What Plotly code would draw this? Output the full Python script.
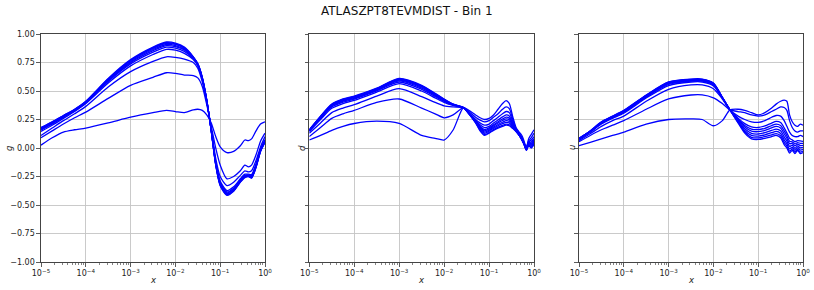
import plotly.graph_objects as go

# ---------------- data: log10(x) grids and curves ----------------
G_LX = [-5, -4.75, -4.5, -4.25, -4, -3.5, -3, -2.5, -2.2, -2, -1.8, -1.6, -1.5, -1.4, -1.3,
        -1.2, -1.1, -1, -0.85, -0.7, -0.55, -0.45, -0.37, -0.3, -0.2, -0.1, 0]
G_CURVES = [
    [0.025, 0.09, 0.14, 0.16, 0.175, 0.22, 0.27, 0.31, 0.33, 0.32, 0.31, 0.335, 0.34, 0.33, 0.29,
     0.22, 0.10, 0.01, -0.04, -0.03, 0.02, 0.07, 0.065, 0.08, 0.15, 0.21, 0.23],
    [0.09, 0.15, 0.21, 0.265, 0.315, 0.435, 0.55, 0.62, 0.66, 0.655, 0.64, 0.635, 0.615, 0.54, 0.38,
     0.19, 0.0, -0.15, -0.27, -0.25, -0.20, -0.15, -0.165, -0.15, -0.06, 0.06, 0.13],
    [0.11, 0.175, 0.24, 0.30, 0.365, 0.535, 0.67, 0.76, 0.80, 0.795, 0.78, 0.75, 0.70, 0.58, 0.40,
     0.17, -0.09, -0.25, -0.33, -0.30, -0.24, -0.20, -0.21, -0.20, -0.11, 0.01, 0.10],
    [.145, .20, .26, .32, .39, .57, .72, .82, .865, .858, .83, .775, .72, .60, .41,
     .16, -.12, -.29, -.373, -.34, -.27, -.23, -.23, -.233, -.14, -.01, .075],
    [.156, .21, .27, .326, .394, .584, .738, .841, .885, .876, .848, .783, .726, .606, .413,
     .157, -.129, -.302, -.385, -.352, -.279, -.239, -.236, -.242, -.149, -.016, .068],
    [.163, .216, .274, .33, .399, .591, .749, .854, .898, .889, .859, .788, .73, .61, .415,
     .155, -.135, -.31, -.394, -.36, -.285, -.245, -.24, -.249, -.155, -.02, .063],
    [.168, .221, .277, .333, .402, .597, .757, .864, .908, .899, .867, .792, .733, .613, .417,
     .153, -.14, -.316, -.401, -.366, -.29, -.25, -.243, -.254, -.16, -.023, .059],
    [.173, .225, .28, .336, .405, .603, .765, .873, .917, .908, .875, .795, .736, .616, .418,
     .152, -.144, -.322, -.407, -.372, -.294, -.254, -.246, -.259, -.164, -.026, .055],
    [.177, .227, .283, .338, .408, .606, .77, .879, .924, .914, .88, .798, .738, .618, .419,
     .151, -.147, -.326, -.411, -.376, -.297, -.257, -.248, -.262, -.167, -.028, .053],
    [0.18, 0.23, 0.285, 0.34, 0.41, 0.61, 0.775, 0.885, 0.93, 0.92, 0.885, 0.80, 0.74, 0.62, 0.42,
     0.15, -0.15, -0.33, -0.415, -0.38, -0.30, -0.26, -0.25, -0.265, -0.17, -0.03, 0.05],
]

D_LX = [-5, -4.75, -4.5, -4.25, -4, -3.5, -3, -2.5, -2.2, -2, -1.8, -1.57, -1.45, -1.3, -1.2,
        -1.1, -1, -0.9, -0.8, -0.7, -0.62, -0.55, -0.47, -0.4, -0.33, -0.27, -0.22, -0.17,
        -0.12, -0.06, 0]
D_CURVES = [
    [0.07, 0.11, 0.155, 0.19, 0.215, 0.235, 0.215, 0.11, 0.085, 0.07, 0.158, 0.354, 0.33, 0.29, 0.265,
     0.25, 0.26, 0.29, 0.34, 0.39, 0.416, 0.39, 0.27, 0.18, 0.14, 0.11, 0.06, 0.0, 0.08, 0.12, 0.16],
    [0.10, 0.18, 0.26, 0.30, 0.33, 0.40, 0.43, 0.35, 0.30, 0.265, 0.29, 0.354, 0.32, 0.27, 0.245,
     0.23, 0.24, 0.27, 0.30, 0.34, 0.36, 0.345, 0.25, 0.17, 0.13, 0.095, 0.045, 0.01, 0.06, 0.09, 0.13],
    [0.13, 0.22, 0.31, 0.35, 0.38, 0.455, 0.52, 0.45, 0.40, 0.37, 0.36, 0.354, 0.31, 0.25, 0.22,
     0.20, 0.21, 0.24, 0.27, 0.30, 0.32, 0.31, 0.23, 0.165, 0.12, 0.085, 0.04, 0.0, 0.05, 0.07, 0.10],
    [.145, .25, .348, .39, .418, .49, .565, .50, .44, .40, .373, .354, .308, .243, .203,
     .178, .19, .219, .246, .273, .29, .281, .215, .16, .118, .081, .038, -.005, .043, .053, .083],
    [.15, .259, .359, .402, .429, .501, .579, .515, .452, .409, .376, .354, .306, .237, .191,
     .162, .176, .204, .23, .254, .27, .262, .205, .157, .116, .079, .036, -.008, .037, .041, .071],
    [.153, .265, .366, .41, .436, .508, .588, .525, .46, .415, .379, .354, .305, .234, .182,
     .151, .167, .194, .219, .241, .255, .248, .198, .154, .115, .077, .035, -.011, .034, .032, .062],
    [.155, .27, .372, .416, .442, .513, .595, .533, .466, .42, .381, .354, .303, .23, .173,
     .14, .156, .183, .206, .226, .24, .233, .19, .152, .113, .075, .033, -.013, .03, .023, .053],
    [.157, .274, .378, .422, .448, .518, .601, .54, .472, .424, .383, .354, .302, .226, .165,
     .129, .147, .173, .195, .213, .225, .219, .183, .149, .112, .073, .032, -.016, .026, .015, .045],
    [.159, .277, .381, .426, .451, .522, .606, .545, .476, .427, .384, .354, .301, .222, .156,
     .117, .136, .162, .183, .199, .21, .204, .175, .147, .111, .071, .031, -.018, .022, .006, .036],
    [0.16, 0.28, 0.385, 0.43, 0.455, 0.525, 0.61, 0.55, 0.48, 0.43, 0.385, 0.354, 0.30, 0.22, 0.15,
     0.11, 0.13, 0.155, 0.175, 0.19, 0.20, 0.195, 0.17, 0.145, 0.11, 0.07, 0.03, -0.02, 0.02, 0.0, 0.03],
]

U_LX = [-5, -4.75, -4.5, -4.25, -4, -3.5, -3, -2.5, -2.25, -2, -1.8, -1.63, -1.45, -1.3,
        -1.15, -1, -0.85, -0.7, -0.6, -0.5, -0.42, -0.36, -0.3, -0.24, -0.18, -0.12, -0.06, 0]
U_CURVES = [
    [0.02, 0.05, 0.08, 0.11, 0.14, 0.21, 0.25, 0.255, 0.25, 0.195, 0.24, 0.334, 0.34, 0.33,
     0.31, 0.29, 0.31, 0.35, 0.385, 0.41, 0.42, 0.41, 0.29, 0.23, 0.20, 0.19, 0.21, 0.20],
    [0.055, 0.11, 0.16, 0.20, 0.24, 0.34, 0.43, 0.465, 0.466, 0.44, 0.39, 0.334, 0.32, 0.31,
     0.29, 0.28, 0.29, 0.32, 0.34, 0.36, 0.355, 0.33, 0.24, 0.18, 0.15, 0.14, 0.15, 0.15],
    [0.065, 0.125, 0.19, 0.24, 0.28, 0.41, 0.515, 0.553, 0.553, 0.52, 0.43, 0.334, 0.28, 0.25,
     0.23, 0.225, 0.24, 0.27, 0.285, 0.28, 0.24, 0.19, 0.14, 0.11, 0.10, 0.10, 0.11, 0.10],
    [.075, .138, .21, .26, .305, .438, .548, .579, .579, .545, .438, .334, .262, .214,
     .185, .18, .194, .219, .233, .223, .177, .133, .085, .071, .055, .064, .062, .058],
    [.078, .141, .216, .266, .313, .446, .557, .587, .587, .553, .44, .334, .254, .198,
     .166, .161, .173, .197, .21, .198, .15, .108, .06, .054, .036, .048, .041, .04],
    [.08, .144, .22, .27, .318, .451, .564, .592, .592, .558, .441, .334, .247, .184,
     .148, .143, .155, .177, .189, .176, .125, .085, .038, .039, .018, .034, .022, .023],
    [.082, .146, .223, .273, .322, .456, .569, .596, .596, .562, .442, .334, .239, .168,
     .128, .123, .135, .154, .166, .151, .097, .061, .014, .022, -.002, .018, .001, .005],
    [.083, .148, .226, .276, .325, .46, .574, .6, .6, .565, .444, .334, .232, .154,
     .11, .105, .116, .134, .145, .128, .072, .038, -.008, .006, -.02, .004, -.018, -.012],
    [.084, .149, .228, .278, .328, .462, .577, .602, .602, .568, .444, .334, .225, .141,
     .094, .089, .099, .115, .126, .107, .049, .017, -.028, -.008, -.037, -.009, -.036, -.027],
    [0.085, 0.15, 0.23, 0.28, 0.33, 0.465, 0.58, 0.605, 0.605, 0.57, 0.445, 0.334, 0.22, 0.13,
     0.08, 0.075, 0.085, 0.10, 0.11, 0.09, 0.03, 0.0, -0.045, -0.02, -0.05, -0.02, -0.05, -0.04],
]

PANEL_NAMES = ["g", "d", "u"]
TITLE = "ATLASZPT8TEVMDIST - Bin 1"
X_TICK_EXP = [-5, -4, -3, -2, -1, 0]
Y_TICKS = [-1.0, -0.75, -0.5, -0.25, 0.0, 0.25, 0.5, 0.75, 1.0]

# ---------------- figure ----------------
W, H = 814, 290
FONT = "DejaVu Sans"
x_domains_px = [(41, 265), (309.3, 534), (579, 803)]
y_top_px, y_bot_px = 34, 262

fig = go.Figure()
panels = [(G_LX, G_CURVES), (D_LX, D_CURVES), (U_LX, U_CURVES)]
for i, (lx, curves) in enumerate(panels):
    xs = [10 ** v for v in lx]
    xa = "x" if i == 0 else f"x{i+1}"
    ya = "y" if i == 0 else f"y{i+1}"
    for ys in curves:
        fig.add_trace(go.Scatter(
            x=xs, y=ys, mode="lines", xaxis=xa, yaxis=ya, showlegend=False,
            hoverinfo="skip",
            line=dict(color="#0000ff", width=1.3, shape="spline", smoothing=0.7),
        ))

minor_vals = [m * 10 ** e for e in range(-5, 0) for m in range(2, 10)]
tick_text = [("10<sup>0</sup>" if e == 0 else f"10<sup>\u2212{-e}</sup>") for e in X_TICK_EXP]
y_text = [f"{v:.2f}".replace("-", "\u2212") for v in Y_TICKS]

layout = dict(
    width=W, height=H,
    margin=dict(l=0, r=0, t=0, b=0, pad=0, autoexpand=False),
    paper_bgcolor="white", plot_bgcolor="white",
    font=dict(family=FONT, size=8, color="#222"),
    showlegend=False,
)
ydom = [1 - y_bot_px / H, 1 - y_top_px / H]
for i, (x0, x1) in enumerate(x_domains_px):
    sx = "" if i == 0 else str(i + 1)
    layout[f"xaxis{sx}"] = dict(
        type="log", range=[-5, 0], domain=[x0 / W, x1 / W],
        anchor=f"y{sx}", tickmode="array", automargin=False,
        tickvals=[10 ** e for e in X_TICK_EXP], ticktext=tick_text,
        ticks="outside", ticklen=3.5, tickwidth=0.8, tickcolor="#333",
        showgrid=True, gridcolor="#c4c4c4", gridwidth=0.9,
        showline=True, linecolor="#444", linewidth=1.1, mirror=True,
        zeroline=False,
        minor=dict(ticks="outside", ticklen=2, tickwidth=0.6, tickcolor="#333",
                   tickmode="array", tickvals=minor_vals, showgrid=False),
        tickfont=dict(family=FONT, size=8, color="#222"),
    )
    layout[f"yaxis{sx}"] = dict(
        range=[-1, 1], domain=ydom, anchor=f"x{sx}", automargin=False,
        tickmode="array", tickvals=Y_TICKS, ticktext=y_text,
        showticklabels=(i == 0),
        ticks="outside", ticklen=3.5, tickwidth=0.8, tickcolor="#333",
        showgrid=True, gridcolor="#c4c4c4", gridwidth=0.9,
        showline=True, linecolor="#444", linewidth=1.1, mirror=True,
        zeroline=False,
        tickfont=dict(family=FONT, size=8, color="#222"),
    )
fig.update_layout(**layout)

annotations = [dict(text=TITLE, x=407 / W, y=1 - 11 / H, xref="paper",
                    yref="paper", showarrow=False,
                    font=dict(family=FONT, size=12, color="#111"),
                    xanchor="center", yanchor="middle")]
ylabel_x_px = [9, 302, 572]
for i, (x0, x1) in enumerate(x_domains_px):
    annotations.append(dict(text="<i>x</i>", x=(x0 + x1) / 2 / W, y=1 - 280 / H,
                            xref="paper", yref="paper", showarrow=False,
                            font=dict(family=FONT, size=8.5, color="#222"),
                            xanchor="center", yanchor="middle"))
    annotations.append(dict(text=f"<i>{PANEL_NAMES[i]}</i>", x=ylabel_x_px[i] / W,
                            y=1 - 148 / H, xref="paper", yref="paper",
                            showarrow=False, textangle=-90,
                            font=dict(family=FONT, size=8.5, color="#222"),
                            xanchor="center", yanchor="middle"))
fig.update_layout(annotations=annotations)

# remove the default 8px page margin so the figure sits at the window's top-left corner
fig.write_html("out.html", config={"displayModeBar": False, "staticPlot": True},
               post_script="document.body.style.margin='0';document.body.style.padding='0';")
